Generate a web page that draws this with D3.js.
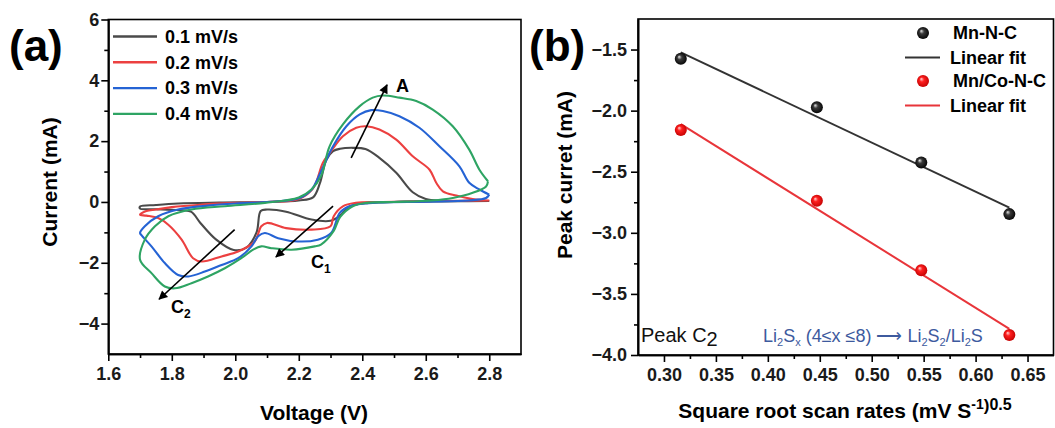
<!DOCTYPE html>
<html>
<head>
<meta charset="utf-8">
<script src="https://cdn.jsdelivr.net/npm/d3@7"></script>
<style>
  body { margin: 0; background: #fff; }
  svg text { font-family: "Liberation Sans", Arial, Helvetica, sans-serif; }
</style>
</head>
<body>
<div id="chart"></div>
<script>
// ---- panel (a): CV curves, [voltage V, current mA], cathodic scan 2.8 -> 1.7 then anodic back ----
const scanRates = ["0.1 mV/s", "0.2 mV/s", "0.3 mV/s", "0.4 mV/s"];

const cv01 = [[2.80,0.03],[2.65,0.02],[2.50,0.0],[2.42,-0.03],[2.36,-0.15],[2.33,-0.45],[2.30,-0.62],
  [2.24,-0.58],[2.16,-0.32],[2.10,-0.25],[2.08,-0.3],[2.067,-1.0],[2.035,-1.5],[1.995,-1.58],[1.94,-1.24],
  [1.89,-0.69],[1.86,-0.32],[1.80,-0.26],[1.75,-0.24],[1.70,-0.22],
  [1.70,-0.15],[1.75,-0.1],[1.82,-0.05],[1.95,-0.02],[2.10,0.0],[2.20,0.05],[2.245,0.15],[2.266,0.6],
  [2.287,1.39],[2.308,1.67],[2.33,1.75],[2.37,1.78],[2.41,1.74],[2.454,1.45],[2.507,0.96],[2.559,0.32],
  [2.60,0.1],[2.65,0.04],[2.80,0.03]];

const cv02 = [[2.80,0.05],[2.70,0.04],[2.55,0.02],[2.45,0.0],[2.38,-0.03],[2.34,-0.14],[2.31,-0.47],
  [2.30,-0.8],[2.24,-0.91],[2.16,-0.86],[2.10,-0.69],[2.082,-0.8],[2.061,-1.30],[2.009,-1.63],[1.957,-1.79],
  [1.894,-1.96],[1.867,-1.85],[1.831,-1.24],[1.789,-0.75],[1.757,-0.53],[1.72,-0.45],[1.70,-0.42],
  [1.72,-0.3],[1.75,-0.25],[1.80,-0.17],[1.89,-0.09],[2.0,-0.03],[2.1,0.0],[2.2,0.1],[2.245,0.45],
  [2.276,1.29],[2.297,1.6],[2.339,2.16],[2.381,2.44],[2.413,2.49],[2.454,2.38],[2.507,2.05],[2.559,1.5],
  [2.612,1.06],[2.633,0.63],[2.654,0.35],[2.696,0.21],[2.748,0.1],[2.80,0.05]];

const cv03 = [[2.80,0.24],[2.79,0.13],[2.737,0.05],[2.6,0.01],[2.45,-0.02],[2.36,-0.14],[2.329,-0.36],
  [2.302,-1.02],[2.26,-1.24],[2.197,-1.30],[2.135,-1.19],[2.093,-1.02],[2.072,-1.13],[2.051,-1.46],
  [2.009,-1.85],[1.957,-2.07],[1.904,-2.29],[1.852,-2.45],[1.82,-2.40],[1.778,-2.01],[1.736,-1.46],
  [1.705,-1.1],[1.70,-1.02],
  [1.715,-0.8],[1.757,-0.47],[1.82,-0.25],[1.914,-0.12],[2.0,-0.05],[2.1,0.0],[2.2,0.12],[2.24,0.4],
  [2.27,1.0],[2.308,1.83],[2.35,2.49],[2.392,2.88],[2.428,3.02],[2.465,2.99],[2.517,2.82],[2.58,2.44],
  [2.643,1.83],[2.706,1.17],[2.737,0.63],[2.769,0.41],[2.80,0.24]];

const cv04 = [[2.796,0.68],[2.79,0.51],[2.748,0.30],[2.685,0.13],[2.62,0.05],[2.50,0.0],[2.413,-0.03],
  [2.37,-0.14],[2.33,-0.5],[2.31,-0.95],[2.27,-1.4],[2.25,-1.46],[2.177,-1.57],[2.114,-1.52],[2.082,-1.46],
  [2.056,-1.57],[2.019,-1.85],[1.967,-2.18],[1.914,-2.45],[1.862,-2.67],[1.81,-2.84],[1.778,-2.78],
  [1.736,-2.34],[1.70,-1.90],
  [1.715,-1.24],[1.747,-0.80],[1.789,-0.47],[1.862,-0.25],[1.967,-0.14],[2.093,-0.03],[2.2,0.15],
  [2.24,0.41],[2.27,0.85],[2.297,1.83],[2.339,2.55],[2.392,3.15],[2.433,3.43],[2.465,3.5],[2.517,3.43],
  [2.57,3.32],[2.622,3.04],[2.685,2.49],[2.737,1.72],[2.769,1.06],[2.796,0.68]];

const cvXTicks = [1.6, 1.8, 2.0, 2.2, 2.4, 2.6, 2.8];
const cvXMinor = [1.7, 1.9, 2.1, 2.3, 2.5, 2.7];
const cvYTicks = [-4, -2, 0, 2, 4, 6];
const cvYMinor = [-3, -1, 1, 3, 5];

// peak arrows, [voltage, current] from -> to
const arrowA = [[2.365, 1.45], [2.478, 3.85]];
const arrowC1 = [[2.308, -0.14], [2.128, -1.81]];
const arrowC2 = [[1.998, -0.91], [1.76, -3.2]];

// ---- panel (b): peak C2 current vs square root of scan rate ----
const sqrtRates = [0.3162, 0.4472, 0.5477, 0.6325];
const peakMnNC = [-1.576, -1.973, -2.424, -2.847];
const peakMnCoNC = [-2.158, -2.738, -3.306, -3.836];
const peakXTicks = [0.30, 0.35, 0.40, 0.45, 0.50, 0.55, 0.60, 0.65];
const peakXMinor = [0.325, 0.375, 0.425, 0.475, 0.525, 0.575, 0.625];
const peakYTicks = [-4.0, -3.5, -3.0, -2.5, -2.0, -1.5];
const peakYMinor = [-3.75, -3.25, -2.75, -2.25, -1.75];

const cvColors = ["#4a4a4a", "#ec4040", "#2563d4", "#2ea463"];

const svg = d3.select("#chart")
    .append("svg")
    .attr("width", 1055)
    .attr("height", 428);

const defs = svg.append("defs");

defs.append("marker")
    .attr("id", "head")
    .attr("viewBox", "0 0 10 10")
    .attr("refX", 9)
    .attr("refY", 5)
    .attr("markerUnits", "userSpaceOnUse")
    .attr("markerWidth", 11)
    .attr("markerHeight", 9)
    .attr("orient", "auto")
    .append("path")
    .attr("d", "M0,0 L10,5 L0,10 z")
    .attr("fill", "#000");

function ballGradient(id, light, mid, dark) {
    const g = defs.append("radialGradient")
        .attr("id", id)
        .attr("cx", "50%").attr("cy", "50%").attr("r", "55%")
        .attr("fx", "35%").attr("fy", "32%");
    g.append("stop").attr("offset", "0%").attr("stop-color", light);
    g.append("stop").attr("offset", "35%").attr("stop-color", mid);
    g.append("stop").attr("offset", "100%").attr("stop-color", dark);
}
ballGradient("ballBlack", "#e8e8e8", "#3a3a3a", "#000");
ballGradient("ballRed", "#ffd6d6", "#ff2020", "#c00000");

function styleAxis(g) {
    g.selectAll("path, line").attr("stroke", "#000").attr("stroke-width", 1.6);
    g.selectAll("text")
        .attr("font-size", 18)
        .attr("font-weight", "bold")
        .attr("fill", "#1a1a1a");
}

function drawCV() {
    const x = d3.scaleLinear().domain([1.6, 2.9]).range([108.3, 521]);
    const y = d3.scaleLinear().domain([-5, 6]).range([354, 19.5]);

    const g = svg.append("g");

    g.append("rect")
        .attr("x", x.range()[0])
        .attr("y", y.range()[1])
        .attr("width", x.range()[1] - x.range()[0])
        .attr("height", y.range()[0] - y.range()[1])
        .attr("fill", "none")
        .attr("stroke", "#000")
        .attr("stroke-width", 1.6);

    const line = d3.line()
        .x(d => x(d[0]))
        .y(d => y(d[1]))
        .curve(d3.curveCatmullRom.alpha(0.5));

    [cv01, cv02, cv03, cv04].forEach((curve, i) => {
        g.append("path")
            .datum(curve)
            .attr("d", line)
            .attr("fill", "none")
            .attr("stroke", cvColors[i])
            .attr("stroke-width", 2.1)
            .attr("stroke-linejoin", "round");
    });

    [arrowA, arrowC1, arrowC2].forEach(a => {
        g.append("line")
            .attr("x1", x(a[0][0])).attr("y1", y(a[0][1]))
            .attr("x2", x(a[1][0])).attr("y2", y(a[1][1]))
            .attr("stroke", "#000")
            .attr("stroke-width", 1.6)
            .attr("marker-end", "url(#head)");
    });

    g.append("text")
        .attr("x", 396).attr("y", 92)
        .attr("font-size", 18).attr("font-weight", "bold")
        .text("A");

    const c1 = g.append("text")
        .attr("x", 311).attr("y", 268)
        .attr("font-size", 18).attr("font-weight", "bold");
    c1.append("tspan").text("C");
    c1.append("tspan").attr("font-size", 12).attr("dy", 5).text("1");

    const c2 = g.append("text")
        .attr("x", 171).attr("y", 313)
        .attr("font-size", 18).attr("font-weight", "bold");
    c2.append("tspan").text("C");
    c2.append("tspan").attr("font-size", 12).attr("dy", 5).text("2");

    // axes
    g.append("g")
        .attr("transform", `translate(0,${y.range()[0]})`)
        .call(d3.axisBottom(x).tickValues(cvXMinor).tickSize(4).tickSizeOuter(0).tickFormat(""))
        .call(styleAxis);
    g.append("g")
        .attr("transform", `translate(0,${y.range()[0]})`)
        .call(d3.axisBottom(x).tickValues(cvXTicks).tickSize(7).tickPadding(6).tickSizeOuter(0).tickFormat(d3.format(".1f")))
        .call(styleAxis);

    g.append("g")
        .attr("transform", `translate(${x.range()[0]},0)`)
        .call(d3.axisLeft(y).tickValues(cvYMinor).tickSize(4).tickSizeOuter(0).tickFormat(""))
        .call(styleAxis);
    g.append("g")
        .attr("transform", `translate(${x.range()[0]},0)`)
        .call(d3.axisLeft(y).tickValues(cvYTicks).tickSize(7).tickPadding(2).tickSizeOuter(0).tickFormat(d3.format("d")))
        .call(styleAxis);

    // legend
    const legend = g.selectAll(".legendA")
        .data(scanRates)
        .enter()
        .append("g")
        .attr("transform", (d, i) => `translate(113,${36.5 + i * 25.8})`);
    legend.append("line")
        .attr("x1", 0).attr("x2", 44)
        .attr("stroke", (d, i) => cvColors[i])
        .attr("stroke-width", 2.4);
    legend.append("text")
        .attr("x", 52)
        .attr("dy", "0.35em")
        .attr("font-size", 18).attr("font-weight", "bold")
        .text(d => d);

    g.append("text")
        .attr("x", 314).attr("y", 420)
        .attr("text-anchor", "middle")
        .attr("font-size", 21).attr("font-weight", "bold")
        .text("Voltage (V)");

    g.append("text")
        .attr("transform", "translate(57,182) rotate(-90)")
        .attr("text-anchor", "middle")
        .attr("font-size", 21).attr("font-weight", "bold")
        .text("Current (mA)");

    g.append("text")
        .attr("x", 9).attr("y", 61)
        .attr("font-size", 44).attr("font-weight", "bold")
        .text("(a)");
}

function linearFit(xs, ys) {
    const mx = d3.mean(xs), my = d3.mean(ys);
    const sxy = d3.sum(xs, (v, i) => (v - mx) * (ys[i] - my));
    const sxx = d3.sum(xs, v => (v - mx) * (v - mx));
    const slope = sxy / sxx;
    return v => my + slope * (v - mx);
}

function drawPeak() {
    const x = d3.scaleLinear().domain([0.275, 0.675]).range([638, 1053.5]);
    const y = d3.scaleLinear().domain([-4.0, -1.25]).range([355, 19]);

    const g = svg.append("g");

    g.append("rect")
        .attr("x", x.range()[0])
        .attr("y", y.range()[1])
        .attr("width", x.range()[1] - x.range()[0])
        .attr("height", y.range()[0] - y.range()[1])
        .attr("fill", "none")
        .attr("stroke", "#000")
        .attr("stroke-width", 1.6);

    const series = [
        { name: "Mn-N-C", values: peakMnNC, line: "#333", ball: "url(#ballBlack)" },
        { name: "Mn/Co-N-C", values: peakMnCoNC, line: "#e8353a", ball: "url(#ballRed)" }
    ];

    series.forEach(s => {
        const fit = linearFit(sqrtRates, s.values);
        const x0 = sqrtRates[0], x1 = sqrtRates[sqrtRates.length - 1];
        g.append("line")
            .attr("x1", x(x0)).attr("y1", y(fit(x0)))
            .attr("x2", x(x1)).attr("y2", y(fit(x1)))
            .attr("stroke", s.line)
            .attr("stroke-width", 2);

        g.selectAll(null)
            .data(s.values)
            .enter()
            .append("circle")
            .attr("cx", (d, i) => x(sqrtRates[i]))
            .attr("cy", d => y(d))
            .attr("r", 6)
            .attr("fill", s.ball);
    });

    g.append("g")
        .attr("transform", `translate(0,${y.range()[0]})`)
        .call(d3.axisBottom(x).tickValues(peakXMinor).tickSize(4).tickSizeOuter(0).tickFormat(""))
        .call(styleAxis);
    g.append("g")
        .attr("transform", `translate(0,${y.range()[0]})`)
        .call(d3.axisBottom(x).tickValues(peakXTicks).tickSize(7).tickPadding(6).tickSizeOuter(0).tickFormat(d3.format(".2f")))
        .call(styleAxis);

    g.append("g")
        .attr("transform", `translate(${x.range()[0]},0)`)
        .call(d3.axisLeft(y).tickValues(peakYMinor).tickSize(4).tickSizeOuter(0).tickFormat(""))
        .call(styleAxis);
    g.append("g")
        .attr("transform", `translate(${x.range()[0]},0)`)
        .call(d3.axisLeft(y).tickValues(peakYTicks).tickSize(7).tickPadding(4).tickSizeOuter(0).tickFormat(d3.format(".1f")))
        .call(styleAxis);

    // legend
    series.forEach((s, i) => {
        const top = 33 + i * 48;
        g.append("circle")
            .attr("cx", 923).attr("cy", top)
            .attr("r", 6)
            .attr("fill", s.ball);
        g.append("text")
            .attr("x", 953).attr("y", top)
            .attr("dy", "0.35em")
            .attr("font-size", 18).attr("font-weight", "bold")
            .text(s.name);
        g.append("line")
            .attr("x1", 905).attr("x2", 940)
            .attr("y1", top + 24.5).attr("y2", top + 24.5)
            .attr("stroke", s.line)
            .attr("stroke-width", 2);
        g.append("text")
            .attr("x", 950).attr("y", top + 24.5)
            .attr("dy", "0.35em")
            .attr("font-size", 18).attr("font-weight", "bold")
            .text("Linear fit");
    });

    const peak = g.append("text")
        .attr("x", 641).attr("y", 342)
        .attr("font-size", 20)
        .attr("fill", "#111");
    peak.append("tspan").text("Peak C");
    peak.append("tspan").attr("dy", 4).text("2");

    const rx = g.append("text")
        .attr("x", 763).attr("y", 342)
        .attr("font-size", 18)
        .attr("fill", "#3d5a9e");
    const sub = (t) => rx.append("tspan").attr("font-size", 11).attr("dy", 4).text(t);
    const up = (t) => rx.append("tspan").attr("dy", -4).text(t);
    rx.append("tspan").text("Li");
    sub("2");
    up("S");
    sub("x");
    up(" (4\u2264x \u22648) \u27F6 Li");
    sub("2");
    up("S");
    sub("2");
    up("/Li");
    sub("2");
    up("S");

    const xt = g.append("text")
        .attr("x", 845).attr("y", 418)
        .attr("text-anchor", "middle")
        .attr("font-size", 21).attr("font-weight", "bold");
    xt.append("tspan").text("Square root scan rates (mV S");
    xt.append("tspan").attr("font-size", 14).attr("dy", -9).text("-1");
    xt.append("tspan").attr("font-size", 17).attr("dy", 2).text(")");
    xt.append("tspan").attr("font-size", 16).attr("dy", -1).text("0.5");

    g.append("text")
        .attr("transform", "translate(572,175) rotate(-90)")
        .attr("text-anchor", "middle")
        .attr("font-size", 21).attr("font-weight", "bold")
        .text("Peak curret (mA)");

    g.append("text")
        .attr("x", 529).attr("y", 61)
        .attr("font-size", 44).attr("font-weight", "bold")
        .text("(b)");
}

drawCV();
drawPeak();
</script>
</body>
</html>
